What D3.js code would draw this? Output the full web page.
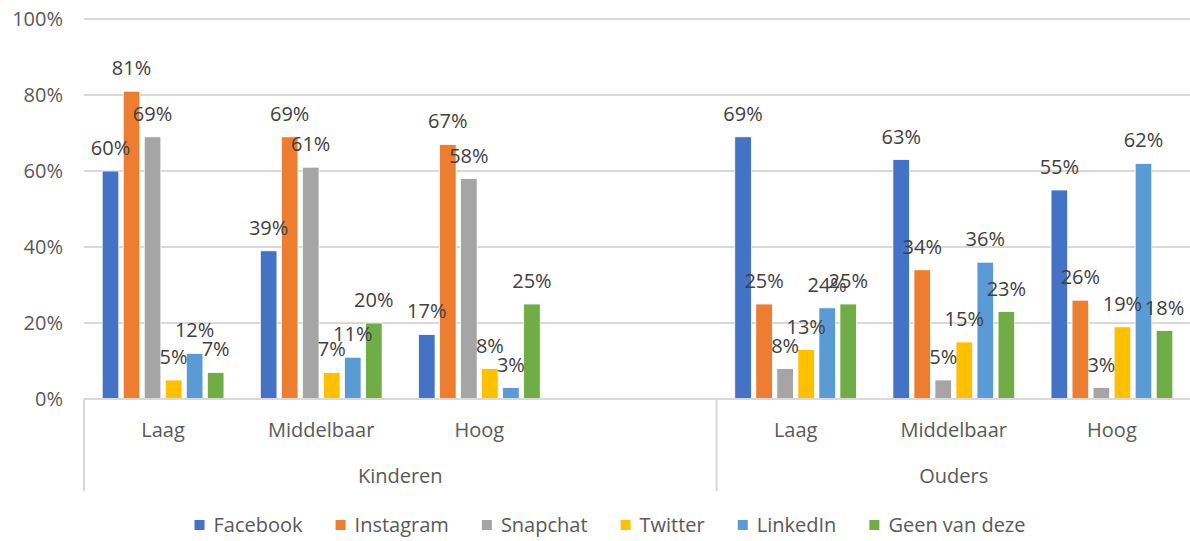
<!DOCTYPE html>
<html>
  <head>
    <style>
    body { margin: 0; background: #fff; }
    svg { display: block; font-family: "Open Sans", sans-serif; }
    </style>
    <script src="https://d3js.org/d3.v7.min.js"></script>
  </head>
  <body>
    <script type="text/javascript">
    // data
    var groups = ["Kinderen", "Kinderen", "Kinderen", "Kinderen", "Ouders", "Ouders", "Ouders"];
    var levels = ["Laag", "Middelbaar", "Hoog", "", "Laag", "Middelbaar", "Hoog"];
    var series = ["Facebook", "Instagram", "Snapchat", "Twitter", "LinkedIn", "Geen van deze"];
    var facebook  = [60, 39, 17, null, 69, 63, 55];
    var instagram = [81, 69, 67, null, 25, 34, 26];
    var snapchat  = [69, 61, 58, null, 8, 5, 3];
    var twitter   = [5, 7, 8, null, 13, 15, 19];
    var linkedin  = [12, 11, 3, null, 24, 36, 62];
    var geen      = [7, 20, 25, null, 25, 23, 18];
    var yTicks = [0, 20, 40, 60, 80, 100];
    var colors = ["#4472C4", "#ED7D31", "#A5A5A5", "#FFC000", "#5B9BD5", "#70AD47"];

    var values = [facebook, instagram, snapchat, twitter, linkedin, geen];
    var slots = levels.map(function(d, i) { return i; });

    var W = 1190, H = 541;
    var plotLeft = 84, plotRight = 1191, plotTop = 19, plotBottom = 399;
    var fs = 20;

    var svg = d3.select("body")
      .append("svg")
      .attr("width", W)
      .attr("height", H);

    var y = d3.scaleLinear().domain([0, 100]).range([plotBottom, plotTop]);

    var x0 = d3.scaleBand()
      .domain(slots)
      .range([plotLeft, plotRight])
      .paddingInner(0.23)
      .paddingOuter(0.115);

    var x1 = d3.scaleBand()
      .domain(series)
      .range([0, x0.bandwidth()])
      .paddingInner(0.21);

    // gridlines
    svg.append("g")
      .selectAll("line")
      .data(yTicks)
      .enter().append("line")
      .attr("x1", plotLeft)
      .attr("x2", W)
      .attr("y1", function(d) { return y(d); })
      .attr("y2", function(d) { return y(d); })
      .attr("stroke", "#d9d9d9")
      .attr("stroke-width", 2);

    // y labels
    svg.append("g")
      .selectAll("text")
      .data(yTicks)
      .enter().append("text")
      .attr("x", 63)
      .attr("y", function(d) { return y(d); })
      .attr("dy", "0.35em")
      .attr("text-anchor", "end")
      .attr("font-size", fs)
      .attr("fill", "#595959")
      .text(function(d) { return d + "%"; });

    // bars
    var slice = svg.selectAll(".slice")
      .data(slots)
      .enter().append("g")
      .attr("class", "slice")
      .attr("transform", function(s) { return "translate(" + x0(s) + ",0)"; });

    var cells = function(s) {
      return series.map(function(name, k) { return {name: name, k: k, v: values[k][s]}; })
        .filter(function(d) { return d.v != null; });
    };

    slice.selectAll("rect")
      .data(cells)
      .enter().append("rect")
      .attr("x", function(d) { return x1(d.name); })
      .attr("width", x1.bandwidth())
      .attr("y", function(d) { return y(d.v); })
      .attr("height", function(d) { return plotBottom - y(d.v); })
      .attr("fill", function(d) { return colors[d.k]; })
      .attr("stroke", "#fff")
      .attr("stroke-width", 0.8);

    slice.selectAll("text")
      .data(cells)
      .enter().append("text")
      .attr("x", function(d) { return x1(d.name) + x1.bandwidth() / 2; })
      .attr("y", function(d) { return y(d.v) - 23; })
      .attr("dy", "0.35em")
      .attr("text-anchor", "middle")
      .attr("font-size", fs)
      .attr("fill", "#404040")
      .text(function(d) { return d.v + "%"; });

    // category axis
    svg.append("line")
      .attr("x1", plotLeft).attr("x2", W)
      .attr("y1", plotBottom).attr("y2", plotBottom)
      .attr("stroke", "#d9d9d9").attr("stroke-width", 2);

    var groupNames = groups.filter(function(g, i) { return groups.indexOf(g) === i; });
    var spans = groupNames.map(function(g) {
      var idx = slots.filter(function(s) { return groups[s] === g; });
      var a = x0(idx[0]) - x0.step() * x0.paddingInner() / 2;
      var b = x0(idx[idx.length - 1]) + x0.bandwidth() + x0.step() * x0.paddingInner() / 2;
      return {name: g, a: a, b: b};
    });
    spans[0].a = plotLeft;

    svg.append("g")
      .selectAll("line")
      .data(spans)
      .enter().append("line")
      .attr("x1", function(d) { return d.a; })
      .attr("x2", function(d) { return d.a; })
      .attr("y1", plotBottom)
      .attr("y2", 491)
      .attr("stroke", "#d9d9d9")
      .attr("stroke-width", 2);

    svg.append("g")
      .selectAll("text")
      .data(slots)
      .enter().append("text")
      .attr("x", function(s) { return x0(s) + x0.bandwidth() / 2; })
      .attr("y", 430)
      .attr("dy", "0.35em")
      .attr("text-anchor", "middle")
      .attr("font-size", fs)
      .attr("fill", "#595959")
      .text(function(s) { return levels[s]; });

    svg.append("g")
      .selectAll("text")
      .data(spans)
      .enter().append("text")
      .attr("x", function(d) { return (d.a + Math.min(d.b, plotRight)) / 2; })
      .attr("y", 476)
      .attr("dy", "0.35em")
      .attr("text-anchor", "middle")
      .attr("font-size", fs)
      .attr("fill", "#595959")
      .text(function(d) { return d.name; });

    // legend
    var legend = svg.append("g");
    var items = legend.selectAll("g")
      .data(series)
      .enter().append("g");
    items.append("rect")
      .attr("width", 10).attr("height", 10)
      .attr("y", 520)
      .attr("fill", function(d, i) { return colors[i]; });
    items.append("text")
      .attr("x", 19)
      .attr("y", 525)
      .attr("dy", "0.35em")
      .attr("font-size", fs)
      .attr("fill", "#595959")
      .text(function(d) { return d; });
    var widths = [];
    items.select("text").each(function() { widths.push(this.getComputedTextLength() + 19); });
    var gap = 33;
    var total = d3.sum(widths) + gap * (widths.length - 1);
    var pos = 610 - total / 2;
    items.attr("transform", function(d, i) {
      var p = pos;
      pos += widths[i] + gap;
      return "translate(" + p + ",0)";
    });
    </script>
  </body>
</html>
